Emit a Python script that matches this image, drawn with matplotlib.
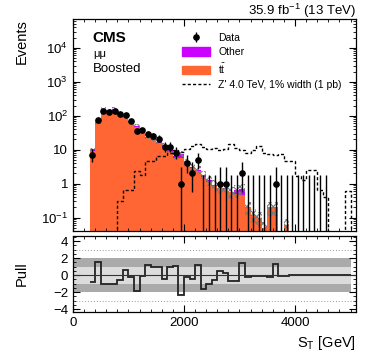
import numpy as np
import matplotlib.pyplot as plt
from matplotlib.patches import Patch
from matplotlib.lines import Line2D
from matplotlib.ticker import FixedLocator, MultipleLocator, LogLocator, NullFormatter

plt.rcParams['font.family'] = ['Liberation Sans', 'DejaVu Sans']
plt.rcParams['mathtext.fontset'] = 'custom'
plt.rcParams['mathtext.rm'] = 'Liberation Sans'
plt.rcParams['mathtext.it'] = 'Liberation Sans:italic'
plt.rcParams['hatch.linewidth'] = 0.8

# 100 GeV bins from 300 to 5100 GeV
edges = np.arange(300, 5200, 100)

ttbar = [9.0, 57, 120, 125, 125, 107, 89, 64, 46, 34, 22, 19, 15.5, 12.3, 8.5, 5.8,
         5.7, 4.0, 2.8, 2.3, 1.6, 1.15, 0.85, 0.72, 0.7, 0.55, 0.5, 0.47, 0.2, 0.12,
         0.1, 0.05, 0.2, 0.2, 0.0, 0.06, 0, 0, 0, 0, 0, 0, 0, 0, 0, 0, 0, 0]
other = [1.5, 5, 40, 20, 35, 10, 8, 6, 4, 3, 2, 2, 1.5, 1.2, 1.0, 0.7,
         1.8, 0.5, 0.3, 0.3, 0.2, 0.1, 0.08, 0.05, 0.05, 0.03, 0.15, 0.23, 0, 0,
         0, 0, 0, 0, 0, 0, 0, 0, 0, 0, 0, 0, 0, 0, 0, 0, 0, 0]
unc_rel = [0.1, 0.1, 0.1, 0.1, 0.1, 0.1, 0.1, 0.12, 0.12, 0.12, 0.14, 0.14, 0.15, 0.16, 0.18, 0.2,
           0.2, 0.22, 0.25, 0.25, 0.3, 0.3, 0.35, 0.35, 0.35, 0.4, 0.4, 0.4, 0.45, 0.45,
           0.45, 0.45, 0.45, 0.45, 0.45, 0.5, 0, 0, 0, 0, 0, 0, 0, 0, 0, 0, 0, 0]
signal = [0, 0, 0, 0, 0, 0.3, 0.64, 0.66, 2.4, 1.8, 4.5, 4.5, 6.5, 6.5, 8.2, 10,
          8.5, 10.5, 13, 15, 12, 10.5, 11, 9.5, 10.5, 15, 11.5, 10, 8, 10,
          12.5, 8, 7.4, 7, 7.4, 4.5, 4.7, 1.7, 1.25, 2.6, 2.5, 0.67, 0.41, 0, 0, 0, 0.6, 0]
data = [7, 73, 140, 128, 140, 109, 102, 68, 35, 37, 29, 26, 21, 12, 12, 8,
        1, 4, 2, 5, 0, 0, 0, 1, 1, 0, 0, 2, 0, 0,
        0, 0, 0, 1, 0, 0, 0, 0, 0, 0, 0, 0, 0, 0, 0, 0, 0, 0]
# range (S_T, GeV) where empty data bins still get an error bar
empty_bar_range = (2300, 4600)
pull = [-0.8, 1.55, -1.0, -1.0, -1.05, -0.6, 0.55, -0.25, -1.9, -0.05, 1.2, 1.0, 0.9, -0.4, 0.95, 1.1,
        -2.3, -0.2, -0.4, 1.2, -1.6, -1.0, -0.6, 0.45, 0.2, -0.75, -0.7, 1.4, -0.2, -0.1,
        -0.1, -0.1, -0.2, 1.3, -0.05, -0.05, -0.03, -0.03, 0, 0, 0, 0, 0, 0, 0, 0, 0, 0]

ttbar = np.array(ttbar, float)
other = np.array(other, float)
total = ttbar + other
unc = total * np.array(unc_rel)
data = np.array(data, float)
centers = 0.5 * (edges[:-1] + edges[1:])

ymin, ymax = 0.04, 7e4
c_tt = '#ff6633'
c_other = '#cc00ff'
dash = (0, (2.2, 1.6))

fig = plt.figure(figsize=(3.78, 3.55), dpi=100)
ax = fig.add_axes([0.193, 0.349, 0.749, 0.597])
ax2 = fig.add_axes([0.193, 0.121, 0.749, 0.214], sharex=ax)

# stacked background
ax.stairs(total, edges, baseline=1e-4, fill=True, color=c_other, lw=0)
ax.stairs(ttbar, edges, baseline=1e-4, fill=True, color=c_tt, lw=0)
ax.stairs(total + unc, edges, baseline=np.clip(total - unc, 1e-4, None), fill=True,
          facecolor='none', edgecolor='#7a7a7a', hatch='xxxxx', lw=0)

# signal
ax.stairs(signal, edges, baseline=None, color='k', lw=1.0, ls=dash)

# data
nz = data > 0
lo = data[nz] - np.sqrt(data[nz])
hi = data[nz] + np.sqrt(data[nz]) + 1
h_data = ax.errorbar(centers[nz], data[nz], yerr=[data[nz] - np.clip(lo, 1e-4, None), hi - data[nz]],
                     fmt='o', ms=3.8, color='k', elinewidth=1.0, capsize=0)
zero = (~nz) & (centers > empty_bar_range[0]) & (centers < empty_bar_range[1])
ax.vlines(centers[zero], 1e-4, 1.84, color='k', lw=1.0)

ax.set_yscale('log')
ax.set_ylim(ymin, ymax)
ax.set_xlim(0, 5100)
ax.yaxis.set_major_locator(FixedLocator([0.1, 1, 10, 100, 1e3, 1e4]))
ax.set_yticklabels(['$10^{-1}$', '1', '10', '$10^{2}$', '$10^{3}$', '$10^{4}$'])
ax.yaxis.set_minor_locator(LogLocator(base=10, subs=np.arange(2, 10), numticks=20))
ax.yaxis.set_minor_formatter(NullFormatter())
ax.set_ylabel('Events', loc='top', fontsize=10.5)
ax.tick_params(labelbottom=False)

for a in (ax, ax2):
    a.xaxis.set_major_locator(MultipleLocator(2000))
    a.xaxis.set_minor_locator(MultipleLocator(200))
    a.tick_params(which='both', direction='in', top=True, right=True, labelsize=9.5)
    a.tick_params(which='major', length=5, width=0.8)
    a.tick_params(which='minor', length=2.5, width=0.6)
    for s in a.spines.values():
        s.set_linewidth(0.9)

ax.text(1.0, 1.02, '35.9 fb$^{-1}$ (13 TeV)', transform=ax.transAxes, ha='right', va='baseline', fontsize=9.5)
ax.text(0.07, 0.945, 'CMS', transform=ax.transAxes, ha='left', va='top', fontsize=11, fontweight='bold')
ax.text(0.07, 0.86, 'μμ', transform=ax.transAxes, ha='left', va='top', fontsize=8)
ax.text(0.07, 0.795, 'Boosted', transform=ax.transAxes, ha='left', va='top', fontsize=9.5)

handles = [h_data, Patch(color=c_other), Patch(color=c_tt),
           Line2D([], [], color='k', lw=1.0, ls=dash)]
labels = ['Data', 'Other', r'$\mathrm{t\bar{t}}$', "Z' 4.0 TeV, 1% width (1 pb)"]
ax.legend(handles, labels, loc='upper left', bbox_to_anchor=(0.385, 0.935), frameon=False,
          fontsize=7.5, handlelength=2.7, handleheight=0.9, handletextpad=0.8,
          labelspacing=0.42, borderpad=0, borderaxespad=0)

# pull panel
ax2.fill_between([0, 5000], -2, 2, color='#aaaaaa', lw=0)
ax2.fill_between([0, 5000], -1, 1, color='#dcdcdc', lw=0)
for yv in (3, -3):
    ax2.axhline(yv, color='#999999', lw=0.7, ls=(0, (1, 2)))
ax2.axhline(0, color='#333333', lw=0.8)
ax2.stairs(pull[:-1], edges[:-1], baseline=None, color='#222222', lw=1.3)
ax2.set_ylim(-4.35, 4.6)
ax2.yaxis.set_major_locator(FixedLocator([-4, -2, 0, 2, 4]))
ax2.yaxis.set_minor_locator(MultipleLocator(0.5))
ax2.set_yticklabels(['\u22124', '\u22122', '0', '2', '4'])
ax2.set_ylabel('Pull', fontsize=10.5)
ax2.set_xlabel(r'S$_\mathrm{T}$ [GeV]', loc='right', fontsize=10.5)
ax.yaxis.set_label_coords(-0.155, 1.0)
ax2.yaxis.set_label_coords(-0.155, 0.5)

fig.savefig('out.png', dpi=100)
